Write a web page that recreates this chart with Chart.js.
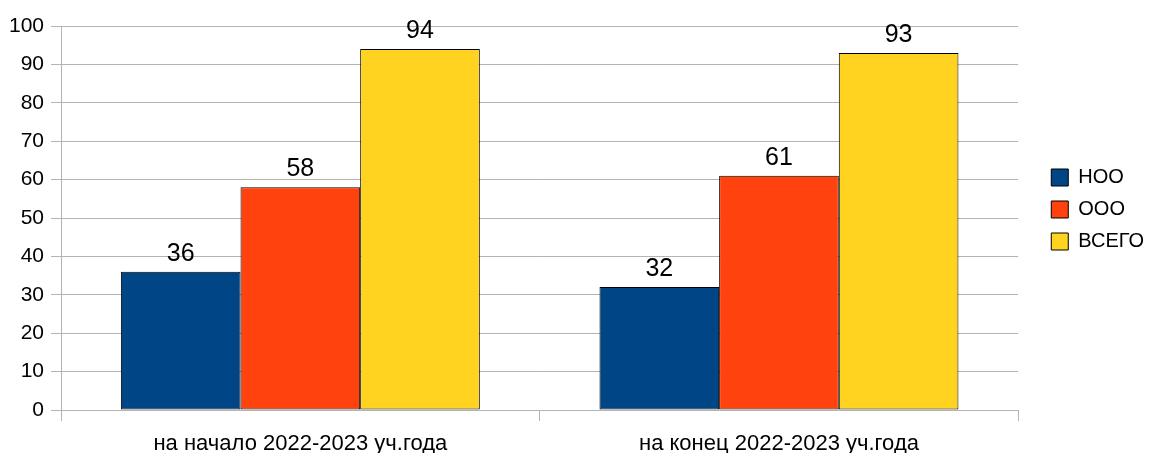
<!DOCTYPE html>
<html>
<head>
<meta charset="utf-8">
<title>НОО / ООО / ВСЕГО</title>
<script src="https://cdn.jsdelivr.net/npm/chart.js@4.4.1/dist/chart.umd.min.js"></script>
<style>
    html, body { margin: 0; padding: 0; background: #fff; }
    #wrap { width: 1149px; height: 453px; }
</style>
</head>
<body>
<div id="wrap"><canvas id="studentsChart"></canvas></div>
<script>
// values
const categories = ['на начало 2022-2023 уч.года', 'на конец 2022-2023 уч.года'];
const seriesNames = ['НОО', 'ООО', 'ВСЕГО'];
const nooValues = [36, 32];
const oooValues = [58, 61];
const totalValues = [94, 93];
const seriesColors = ['#004586', '#ff420e', '#ffd320'];

const fontFamily = '"Liberation Sans", Arial, sans-serif';
const gridColor = '#b3b3b3';

// numbers above the bars
const barValueLabels = {
    id: 'barValueLabels',
    afterDatasetsDraw(chart) {
        const ctx = chart.ctx;
        ctx.save();
        ctx.font = '25px ' + fontFamily;
        ctx.fillStyle = '#000';
        ctx.textAlign = 'center';
        ctx.textBaseline = 'alphabetic';
        chart.data.datasets.forEach((ds, i) => {
            chart.getDatasetMeta(i).data.forEach((bar, j) => {
                ctx.fillText(ds.data[j], bar.x, bar.y - 11);
            });
        });
        ctx.restore();
    }
};

// move the legend block next to the plot like in the original
const legendNudge = {
    id: 'legendNudge',
    afterLayout(chart) {
        const l = chart.legend;
        l.left += 21;
        l.right += 21;
        l.top -= 37;
        l.bottom -= 37;
    }
};

const allValues = [nooValues, oooValues, totalValues];

const ctx = document.getElementById('studentsChart').getContext('2d');
new Chart(ctx, {
    type: 'bar',
    data: {
        labels: categories,
        datasets: seriesNames.map((name, i) => ({
            label: name,
            data: allValues[i],
            backgroundColor: seriesColors[i],
            borderColor: '#000',
            borderWidth: 1,
            borderSkipped: false,
            categoryPercentage: 0.75,
            barPercentage: 1
        }))
    },
    options: {
        responsive: true,
        maintainAspectRatio: false,
        animation: false,
        layout: {
            padding: { left: 2, right: 16, top: 26, bottom: -14 }
        },
        scales: {
            x: {
                grid: {
                    display: true,
                    drawOnChartArea: false,
                    drawTicks: true,
                    tickLength: 11,
                    color: gridColor,
                    offset: true
                },
                border: { display: true, color: gridColor },
                ticks: {
                    color: '#000',
                    padding: 12,
                    font: { family: fontFamily, size: 22, lineHeight: 1 }
                }
            },
            y: {
                min: 0,
                max: 100,
                grid: {
                    color: gridColor,
                    tickLength: 10
                },
                border: { display: true, color: gridColor },
                ticks: {
                    stepSize: 10,
                    color: '#000',
                    padding: 7,
                    font: { family: fontFamily, size: 21 }
                }
            }
        },
        plugins: {
            legend: {
                position: 'right',
                labels: {
                    boxWidth: 17,
                    boxHeight: 17,
                    padding: 12,
                    color: '#000',
                    font: { family: fontFamily, size: 20 }
                }
            },
            title: { display: false },
            tooltip: { enabled: false }
        }
    },
    plugins: [barValueLabels, legendNudge]
});
</script>
</body>
</html>
